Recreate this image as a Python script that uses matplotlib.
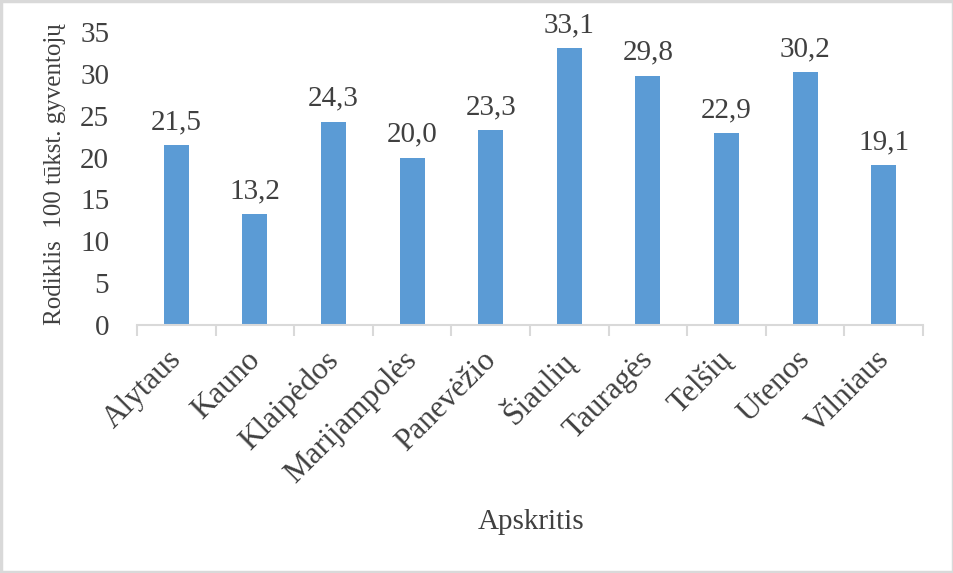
import matplotlib.pyplot as plt
import matplotlib.patches as mpatches
import matplotlib.transforms as mtrans
import numpy as np

plt.rcParams['font.family'] = ['Liberation Serif', 'DejaVu Serif']

# DATA
apskritys = ['Alytaus', 'Kauno', 'Klaipėdos', 'Marijampolės', 'Panevėžio',
             'Šiaulių', 'Tauragės', 'Telšių', 'Utenos', 'Vilniaus']
rodiklis = [21.5, 13.2, 24.3, 20.0, 23.3, 33.1, 29.8, 22.9, 30.2, 19.1]
y_ticks = [0, 5, 10, 15, 20, 25, 30, 35]

txt = '#404040'
grey = '#D9D9D9'

fig = plt.figure(figsize=(9.54, 5.73), dpi=100)
ax = fig.add_axes([137 / 954, 1 - 325 / 573, 786 / 954, 293 / 573])

x = np.arange(len(apskritys))
ax.bar(x, rodiklis, width=0.32, color='#5B9BD5', zorder=2)

# data labels
for xi, v in zip(x, rodiklis):
    ax.annotate(f'{v:.1f}'.replace('.', ','), (xi, v), xytext=(0, 7),
                textcoords='offset points', ha='center', va='bottom',
                fontsize=21, color=txt)

ax.set_xlim(-0.5, len(apskritys) - 0.5)
ax.set_ylim(0, 35)
ax.set_yticks(y_ticks)
ax.set_yticklabels([str(t) for t in y_ticks], fontsize=21, color=txt)
ax.tick_params(axis='y', length=0, pad=20)

# category labels, rotated
ax.set_xticks(x)
ax.set_xticklabels(apskritys, rotation=45, ha='right', va='center',
                   rotation_mode='anchor', fontsize=22.5, color=txt)
ax.tick_params(axis='x', length=0, pad=22)
shift = mtrans.ScaledTranslation(1 / 100, 0, fig.dpi_scale_trans)
for lab in ax.get_xticklabels():
    lab.set_transform(lab.get_transform() + shift)

# tick marks between categories
ax.set_xticks(np.arange(-0.5, len(apskritys)), minor=True)
ax.tick_params(axis='x', which='minor', length=8, color=grey, width=1.5)

for s in ['top', 'right', 'left']:
    ax.spines[s].set_visible(False)
ax.spines['bottom'].set_color(grey)
ax.spines['bottom'].set_linewidth(1.5)

fig.text(55 / 954, 1 - 174 / 573, 'Rodiklis  100 tūkst. gyventojų', rotation=90,
         ha='center', va='center', fontsize=18, color=txt)
fig.text(531 / 954, 1 - 522 / 573, 'Apskritis', ha='center', va='center',
         fontsize=21, color=txt)

# border
fig.patches.append(mpatches.Rectangle((0.0015, 0.0025), 0.997, 0.995,
                                      transform=fig.transFigure, fill=False,
                                      edgecolor=grey, linewidth=2.5))

fig.savefig('out.png', dpi=100)
